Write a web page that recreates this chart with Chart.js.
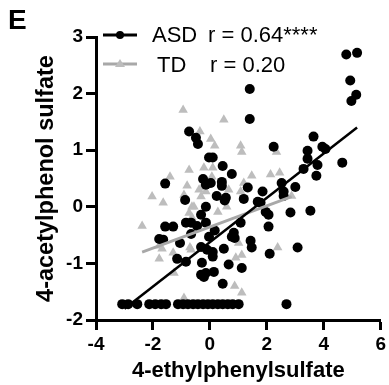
<!DOCTYPE html>
<html><head><meta charset="utf-8">
<script src="https://cdn.jsdelivr.net/npm/chart.js@4.4.1/dist/chart.umd.min.js"></script>
<style>html,body{margin:0;padding:0;background:#fff;}#wrap{width:389px;height:385px;}</style>
</head><body><div id="wrap"><canvas id="c" width="389" height="385"></canvas></div>
<script>
const FONT = '"Liberation Sans", Arial, Helvetica, sans-serif';

// ASD (black circles)
const asdX = [4.79,5.17,4.93,5.14,4.97,1.40,1.40,-0.73,-0.49,-0.42,-0.03,0.10,0.45,0.77,-1.57,-0.24,-0.14,0.03,0.42,0.42,-0.87,0.24,0.56,2.24,3.64,3.43,3.95,4.06,3.43,4.65,3.78,3.29,3.74,1.33,1.85,2.52,3.00,2.59,2.59,1.68,1.78,1.96,2.06,2.83,3.53,2.06,1.19,1.08,0.84,0.87,0.77,1.43,1.47,3.08,2.10,0.66,1.12,0.45,-0.14,0.52,-0.31,-1.57,-1.29,-0.84,-0.45,-0.14,-0.66,-1.78,-1.64,-1.05,0.17,-0.03,-0.31,-0.10,0.10,-1.15,-0.84,0.10,0.49,-0.28,-0.31,-0.21,-0.14,0.14,-0.66,
  -3.08,-2.87,-2.55,-2.13,-1.92,-1.71,-1.54,-1.12,-0.94,-0.77,-0.59,-0.42,-0.24,-0.07,0.10,0.28,0.45,0.63,0.80,1.01,2.69];
const asdY = [2.69,2.72,2.23,1.98,1.87,2.08,1.55,1.33,1.22,1.11,0.87,0.87,0.72,0.58,0.41,0.49,0.39,0.42,0.44,0.37,0.12,0.19,0.16,1.06,1.24,0.99,1.06,1.02,0.85,0.78,0.74,0.67,0.55,0.34,0.27,0.42,0.35,0.27,0.19,0.09,0.07,-0.09,-0.14,-0.10,-0.07,-0.35,0.14,-0.28,-0.46,-0.55,-0.53,-0.60,-0.72,-0.72,-0.83,-1.02,-1.08,-1.36,0.00,0.11,-0.14,-0.35,-0.35,-0.28,-0.34,-0.28,-0.48,-0.57,-0.58,-0.64,-0.42,-0.53,-0.71,-0.76,-0.80,-0.92,-0.97,-0.88,-0.74,-0.99,-1.20,-1.24,-1.17,-1.15,-0.28,
  -1.72,-1.72,-1.72,-1.72,-1.72,-1.72,-1.72,-1.72,-1.72,-1.72,-1.72,-1.72,-1.72,-1.72,-1.72,-1.72,-1.72,-1.72,-1.72,-1.72,-1.72];

// TD (grey triangles)
const tdX = [-0.94,0.49,-0.35,0.03,0.17,-0.73,-0.21,0.10,-1.40,-0.80,-0.28,-0.14,-2.03,1.08,1.12,2.34,1.47,2.13,2.45,1.19,1.08,2.87,-1.64,-0.73,-0.63,-2.38,-1.78,-1.68,-1.29,-0.66,-1.78,0.91,1.12,1.01,2.38,-1.26,0.87,1.12,-0.91,0.28,0.59,-0.38,-0.91,-0.56,0.07,0.66,-0.31,-0.63,-0.70];
const tdY = [1.71,1.54,1.33,1.20,1.08,0.65,0.69,0.69,0.53,0.37,0.34,0.27,0.18,1.08,0.97,0.97,0.55,0.57,0.60,0.42,0.27,0.19,0.07,-0.11,0.00,-0.34,-0.69,-0.74,-0.81,-0.76,-0.92,-0.90,-0.85,-0.64,-0.72,-1.17,-1.40,-1.52,-1.61,-0.09,0.00,0.30,0.21,0.00,0.53,0.30,0.18,-0.19,-0.72];

// Regression line end points
const asdFitX = [-3.00, 5.17];
const asdFitY = [-1.80, 1.40];
const tdFitX = [-2.38, 2.87];
const tdFitY = [-0.80, 0.18];

const legendLabels = ['ASD', 'TD'];
const legendStats = ['r = 0.64****', 'r = 0.20'];
const panelLabel = 'E';
const xTitle = '4-ethylphenylsulfate';
const yTitle = '4-acetylphenol sulfate';

const BLACK = '#000000';
const GREY_PT = '#bdbdbd';
const GREY_LN = '#a8a8a8';

const zip = (xs, ys) => xs.map((x, i) => ({x, y: ys[i]}));

const overlay = {
  id: 'overlay',
  afterDatasetsDraw(chart) {
    const ctx = chart.ctx;
    ctx.save();
    ctx.fillStyle = BLACK;
    ctx.font = 'bold 28px ' + FONT;
    ctx.textBaseline = 'alphabetic';
    ctx.textAlign = 'left';
    ctx.fillText(panelLabel, 8, 29);
    const rows = [
      {y: 35, color: BLACK, lw: 3, marker: 'circle', tx: 152, rx: 208, base: 42},
      {y: 64, color: GREY_LN, lw: 3, marker: 'triangle', tx: 157, rx: 210, base: 72}
    ];
    rows.forEach((r, i) => {
      ctx.strokeStyle = r.color;
      ctx.lineWidth = r.lw;
      ctx.beginPath();
      ctx.moveTo(103, r.y); ctx.lineTo(137, r.y);
      ctx.stroke();
      if (r.marker === 'circle') {
        ctx.fillStyle = BLACK;
        ctx.beginPath(); ctx.arc(120, r.y, 4, 0, Math.PI * 2); ctx.fill();
      } else {
        ctx.fillStyle = GREY_PT;
        ctx.beginPath();
        ctx.moveTo(120, r.y - 5); ctx.lineTo(125, r.y + 3); ctx.lineTo(115, r.y + 3);
        ctx.closePath(); ctx.fill();
      }
      ctx.fillStyle = BLACK;
      ctx.font = '22px ' + FONT;
      ctx.fillText(legendLabels[i], r.tx, r.base);
      ctx.fillText(legendStats[i], r.rx, r.base);
    });
    ctx.restore();
  }
};

const axisCommon = {
  grid: {drawOnChartArea: false, drawTicks: true, tickLength: 10, tickWidth: 3, tickColor: BLACK},
  border: {display: true, color: BLACK, width: 3}
};

new Chart(document.getElementById('c'), {
  type: 'scatter',
  data: {
    datasets: [
      {label: 'ASD fit', type: 'line', data: zip(asdFitX, asdFitY), borderColor: BLACK, borderWidth: 2.5, pointRadius: 0, fill: false},
      {label: 'TD fit', type: 'line', data: zip(tdFitX, tdFitY), borderColor: GREY_LN, borderWidth: 2.8, pointRadius: 0, fill: false},
      {label: 'ASD', data: zip(asdX, asdY), backgroundColor: BLACK, borderColor: BLACK, borderWidth: 0, pointRadius: 5, pointStyle: 'circle'},
      {label: 'TD', data: zip(tdX, tdY), backgroundColor: GREY_PT, borderColor: GREY_PT, borderWidth: 0, pointRadius: 5.5, pointStyle: 'triangle'}
    ]
  },
  options: {
    responsive: false,
    animation: false,
    events: [],
    layout: {padding: {left: 0, top: 37, right: 7, bottom: 0}},
    plugins: {legend: {display: false}, tooltip: {enabled: false}},
    scales: {
      x: Object.assign({}, axisCommon, {
        type: 'linear', min: -4, max: 6,
        ticks: {stepSize: 2, color: BLACK, padding: 3, font: {family: FONT, size: 19, weight: 'bold'}},
        title: {display: true, text: xTitle, color: BLACK, font: {family: FONT, size: 22, weight: 'bold'}, padding: {top: 0, bottom: 1}},
        afterFit(s) { s.height = 65; }
      }),
      y: Object.assign({}, axisCommon, {
        type: 'linear', min: -2, max: 3,
        ticks: {stepSize: 1, color: BLACK, padding: 3, font: {family: FONT, size: 19, weight: 'bold'}},
        title: {display: true, text: yTitle, color: BLACK, font: {family: FONT, size: 23.5, weight: 'bold'}, padding: {top: 32, bottom: 0}},
        afterFit(s) { s.width = 96; }
      })
    }
  },
  plugins: [overlay]
});
</script></body></html>
